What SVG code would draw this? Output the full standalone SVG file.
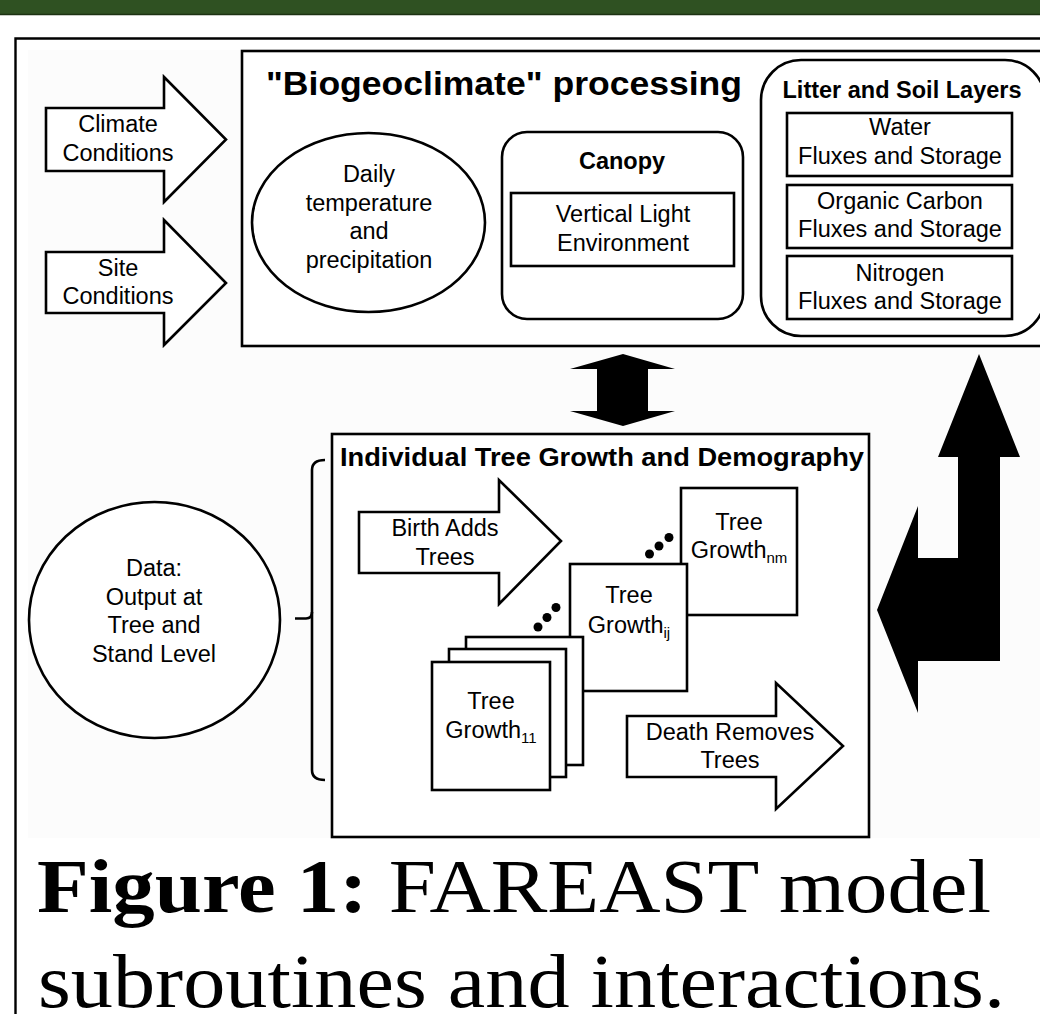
<svg xmlns="http://www.w3.org/2000/svg" width="1040" height="1014" viewBox="0 0 1040 1014">
<defs>
<style>
.box{fill:#fff;stroke:#000;stroke-width:2.6}
.nobg{fill:none;stroke:#000;stroke-width:2.6}
.t{font-family:"Liberation Sans",Arial,sans-serif;font-size:23.5px;fill:#000;text-anchor:middle}
.b{font-family:"Liberation Sans",Arial,sans-serif;font-weight:bold;fill:#000}
.sub{font-size:15px}
.cap{font-family:"Liberation Serif","Times New Roman",serif;font-size:77px;fill:#000}
.blk{fill:#000;stroke:none}
.dot{fill:#000}
</style>
</defs>
<rect x="0" y="0" width="1040" height="1014" fill="#fff"/>
<rect x="0" y="0" width="1040" height="15" fill="#2f5122"/>
<line x1="0" y1="14.5" x2="1040" y2="14.5" stroke="#1c3212" stroke-width="1.5"/>
<rect x="28" y="50" width="1012" height="788" fill="#fcfcfc"/>
<path d="M15.5 1014 L15.5 38.5 L1040 38.5" fill="none" stroke="#000" stroke-width="2.4"/>

<g id="biogeoclimate">
<rect x="242" y="51" width="820" height="295" class="box" fill="#fcfcfc"/>
<text x="266" y="95" class="b" font-size="32.5" textLength="476" lengthAdjust="spacingAndGlyphs">"Biogeoclimate" processing</text>
</g>

<g id="climate">
<polygon points="46,108 164,108 164,77 226,139.5 164,202 164,171 46,171" class="box"/>
<text x="118" y="132" class="t">Climate</text>
<text x="118" y="161" class="t">Conditions</text>
</g>

<g id="site">
<polygon points="46,252 164,252 164,220 226,283 164,345 164,313 46,313" class="box"/>
<text x="118" y="276" class="t">Site</text>
<text x="118" y="304" class="t">Conditions</text>
</g>

<g id="daily">
<ellipse cx="368.5" cy="222.5" rx="116.5" ry="89.5" class="box"/>
<text x="369" y="182" class="t">Daily</text>
<text x="369" y="211" class="t">temperature</text>
<text x="369" y="239" class="t">and</text>
<text x="369" y="268" class="t">precipitation</text>
</g>

<g id="canopy">
<rect x="502" y="132" width="241" height="187" rx="25" class="box"/>
<text x="622" y="169" class="b" font-size="23.5" text-anchor="middle">Canopy</text>
<rect x="511" y="193" width="223" height="73" class="box"/>
<text x="623" y="222" class="t">Vertical Light</text>
<text x="623" y="251" class="t">Environment</text>
</g>

<g id="litter">
<rect x="761" y="60" width="284" height="276" rx="40" class="box"/>
<text x="902" y="98" class="b" font-size="23.5" text-anchor="middle">Litter and Soil Layers</text>
</g>

<g id="water">
<rect x="787" y="113" width="225" height="63" class="box"/>
<text x="900" y="135" class="t">Water</text>
<text x="900" y="164" class="t">Fluxes and Storage</text>
</g>

<g id="carbon">
<rect x="787" y="185" width="225" height="63" class="box"/>
<text x="900" y="209" class="t">Organic Carbon</text>
<text x="900" y="237" class="t">Fluxes and Storage</text>
</g>

<g id="nitrogen">
<rect x="787" y="256" width="225" height="63" class="box"/>
<text x="900" y="281" class="t">Nitrogen</text>
<text x="900" y="309" class="t">Fluxes and Storage</text>
</g>

<g id="connectors">
<polygon class="blk" points="623,354 675,369 648,369 648,411 675,411 623,426 570,411 597,411 597,369 570,369"/>
<polygon class="blk" points="979,354 1020,457 1000,457 1000,661 918,661 918,713 877,610 918,506 918,558 958,558 958,457 938,457"/>
<path d="M325 460 Q312 460 312 470 L312 770 Q312 780 325 780" class="nobg"/>
<path d="M295 618.5 L306 618.5 Q312 618.5 312 612" class="nobg"/>
</g>

<g id="individual">
<rect x="332" y="434" width="537" height="403" class="box"/>
<text x="340" y="466" class="b" font-size="26" textLength="524" lengthAdjust="spacingAndGlyphs">Individual Tree Growth and Demography</text>
</g>

<g id="birth">
<polygon points="359,512 499,512 499,480 561,541 499,604 499,573 359,573" class="box"/>
<text x="445" y="536" class="t">Birth Adds</text>
<text x="445" y="565" class="t">Trees</text>
</g>

<g id="tree-nm">
<rect x="681" y="488" width="116" height="127" class="box"/>
<text x="739" y="530" class="t">Tree</text>
<text x="739" y="558" class="t">Growth<tspan class="sub" dy="5">nm</tspan></text>
</g>

<g id="tree-ij">
<rect x="570" y="564" width="117" height="127" class="box"/>
<text x="629" y="603" class="t">Tree</text>
<text x="629" y="633" class="t">Growth<tspan class="sub" dy="5">ij</tspan></text>
</g>

<g id="dots">
<circle cx="649.5" cy="554" r="4.5" class="dot"/>
<circle cx="659" cy="546" r="4.5" class="dot"/>
<circle cx="669" cy="537.5" r="4.5" class="dot"/>
<circle cx="538" cy="627" r="4.5" class="dot"/>
<circle cx="547" cy="617.5" r="4.5" class="dot"/>
<circle cx="556" cy="607.5" r="4.5" class="dot"/>
</g>

<g id="tree-11">
<rect x="466" y="637" width="117" height="128" class="box"/>
<rect x="449" y="649" width="117" height="128" class="box"/>
<rect x="432" y="662" width="118" height="128" class="box"/>
<text x="491" y="709" class="t">Tree</text>
<text x="491" y="738" class="t">Growth<tspan class="sub" dy="5">11</tspan></text>
</g>

<g id="death">
<polygon points="627,716 776,716 776,683 843,746 776,809 776,777 627,777" class="box"/>
<text x="730" y="740" class="t">Death Removes</text>
<text x="730" y="768" class="t">Trees</text>
</g>

<g id="data">
<ellipse cx="154.5" cy="620" rx="125.5" ry="118" class="box"/>
<text x="154" y="576" class="t">Data:</text>
<text x="154" y="605" class="t">Output at</text>
<text x="154" y="633" class="t">Tree and</text>
<text x="154" y="662" class="t">Stand Level</text>
</g>

<g id="caption">
<text x="37" y="912" class="cap" textLength="954" lengthAdjust="spacingAndGlyphs"><tspan font-weight="bold">Figure 1:</tspan> FAREAST model</text>
<text x="38" y="1007" class="cap" textLength="967" lengthAdjust="spacingAndGlyphs">subroutines and interactions.</text>
</g>
</svg>
